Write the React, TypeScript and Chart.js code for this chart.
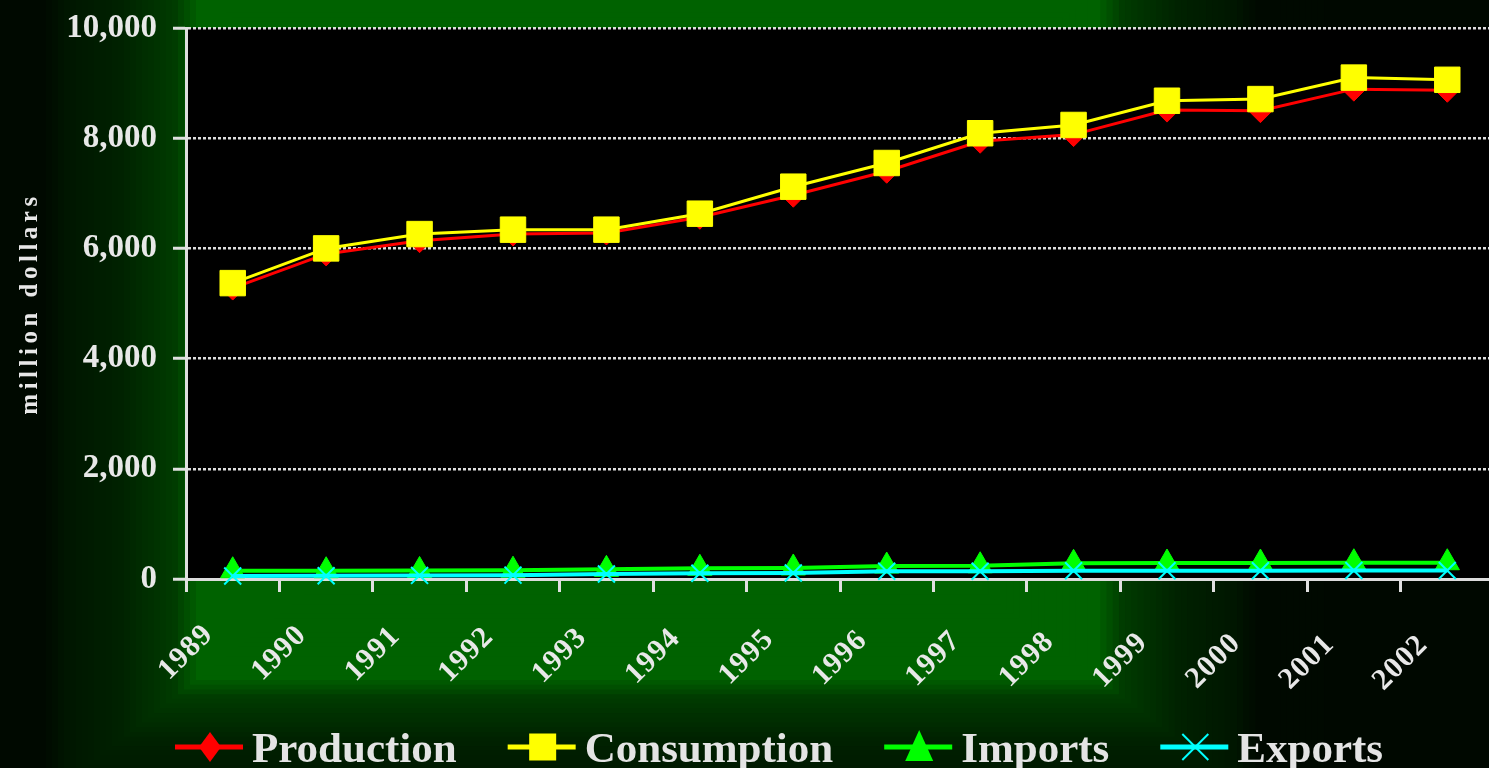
import React, { useEffect, useRef } from 'react';
import { Chart, registerables } from 'chart.js';

Chart.register(...registerables);

const years = ['1989', '1990', '1991', '1992', '1993', '1994', '1995', '1996', '1997', '1998', '1999', '2000', '2001', '2002'];
const production = [5280, 5900, 6140, 6260, 6280, 6565, 6965, 7400, 7945, 8065, 8510, 8500, 8890, 8870];
const consumption = [5370, 6000, 6260, 6340, 6340, 6630, 7120, 7550, 8090, 8240, 8680, 8710, 9100, 9060];
const imports = [150, 150, 155, 160, 175, 195, 200, 235, 240, 285, 290, 290, 295, 295];
const exportsData = [55, 60, 65, 70, 90, 105, 110, 140, 140, 150, 150, 150, 155, 155];
const seriesNames = ['Production', 'Consumption', 'Imports', 'Exports'];
const seriesColors = ['#ff0000', '#ffff00', '#00ff00', '#00ffff'];
const seriesMarkers = ['diamond', 'square', 'triangle', 'cross'];
const yAxisTitle = 'million dollars';
const yMin = 0;
const yMax = 10000;
const yStep = 2000;

const SERIF = '"Liberation Serif", "Times New Roman", serif';
const TEXT = '#e8e8e8';

// brightness ramp of the rectangular background gradient (level -> green channel)
const ramp: [number, number][] = [
  [0.0, 100],
  [0.74, 98],
  [0.78, 60],
  [0.87, 34],
  [0.96, 22],
  [1.0, 9],
  [2.0, 8],
];

function rampAt(level: number) {
  for (let i = 1; i < ramp.length; i++) {
    const [l0, g0] = ramp[i - 1];
    const [l1, g1] = ramp[i];
    if (level <= l1) {
      const t = (level - l0) / (l1 - l0);
      return g0 + (g1 - g0) * t;
    }
  }
  return ramp[ramp.length - 1][1];
}

function drawBackground(ctx: CanvasRenderingContext2D, w: number, h: number) {
  ctx.fillStyle = 'rgb(0,8,0)';
  ctx.fillRect(0, 0, w, h);
  const cx = 640;
  const cy = 330;
  const WL = 600;
  const WR = 622;
  const HT = 460;
  const HB = 473;
  const steps = 110;
  const maxLevel = 1.1;
  for (let i = 0; i < steps; i++) {
    const level = maxLevel * (1 - i / steps);
    const g = Math.round(rampAt(level));
    ctx.fillStyle = `rgb(0,${g},0)`;
    const x0 = cx - WL * level;
    const x1 = cx + WR * level;
    const y0 = cy - HT * level;
    const y1 = cy + HB * level;
    ctx.fillRect(x0, y0, x1 - x0, y1 - y0);
  }
}

function drawMarker(ctx: CanvasRenderingContext2D, kind: string, x: number, y: number, color: string) {
  ctx.save();
  ctx.fillStyle = color;
  ctx.strokeStyle = color;
  ctx.beginPath();
  if (kind === 'diamond') {
    ctx.moveTo(x, y - 15);
    ctx.lineTo(x + 11, y);
    ctx.lineTo(x, y + 15);
    ctx.lineTo(x - 11, y);
    ctx.closePath();
    ctx.fill();
  } else if (kind === 'square') {
    ctx.rect(x - 13.5, y - 13.5, 27, 27);
    ctx.fill();
  } else if (kind === 'triangle') {
    ctx.moveTo(x, y - 17);
    ctx.lineTo(x + 14, y + 14);
    ctx.lineTo(x - 14, y + 14);
    ctx.closePath();
    ctx.fill();
  } else {
    ctx.lineWidth = 2;
    ctx.moveTo(x - 13, y - 13);
    ctx.lineTo(x + 13, y + 13);
    ctx.moveTo(x + 13, y - 13);
    ctx.lineTo(x - 13, y + 13);
    ctx.stroke();
  }
  ctx.restore();
}

const decorPlugin = {
  id: 'decor',
  beforeDraw(chart: any) {
    const { ctx, width, height, chartArea } = chart;
    ctx.save();
    drawBackground(ctx, width, height);
    ctx.fillStyle = '#000000';
    ctx.fillRect(chartArea.left, chartArea.top, chartArea.right - chartArea.left, chartArea.bottom - chartArea.top);
    ctx.restore();
  },
  afterDraw(chart: any) {
    const { ctx, chartArea } = chart;
    const xs = chart.scales.x;

    // rotated category labels
    ctx.save();
    ctx.font = `bold 30px ${SERIF}`;
    (ctx as any).letterSpacing = '1px';
    ctx.fillStyle = TEXT;
    ctx.textAlign = 'right';
    ctx.textBaseline = 'middle';
    years.forEach((label, i) => {
      const px = xs.getPixelForValue(i);
      ctx.save();
      ctx.translate(px - 24, xs.top + 51 + 0.8 * i);
      ctx.rotate(-Math.PI / 4);
      ctx.fillText(label, 0, 0);
      ctx.restore();
    });
    ctx.restore();

    // y axis title
    ctx.save();
    ctx.font = `bold 25px ${SERIF}`;
    (ctx as any).letterSpacing = '4.5px';
    ctx.fillStyle = TEXT;
    ctx.textAlign = 'center';
    ctx.textBaseline = 'middle';
    ctx.translate(31, (chartArea.top + chartArea.bottom) / 2);
    ctx.rotate(-Math.PI / 2);
    ctx.fillText(yAxisTitle, 0, 0);
    ctx.restore();

    // legend
    ctx.save();
    ctx.font = `bold 43px ${SERIF}`;
    let x = 175;
    const ly = 747;
    seriesNames.forEach((name, i) => {
      ctx.strokeStyle = seriesColors[i];
      ctx.lineWidth = 5;
      ctx.beginPath();
      ctx.moveTo(x, ly);
      ctx.lineTo(x + 68, ly);
      ctx.stroke();
      drawMarker(ctx, seriesMarkers[i], x + 35, ly, seriesColors[i]);
      ctx.fillStyle = '#e4e4e4';
      ctx.textAlign = 'left';
      ctx.textBaseline = 'alphabetic';
      ctx.fillText(name, x + 77, 762);
      x += 77 + ctx.measureText(name).width + 51;
    });
    ctx.restore();
  },
};

const noPadding = (s: any) => {
  s.paddingTop = 0;
  s.paddingBottom = 0;
  s.paddingLeft = 0;
  s.paddingRight = 0;
};

export default function App() {
  const ref = useRef<HTMLCanvasElement | null>(null);

  useEffect(() => {
    document.body.style.margin = '0';
    document.body.style.overflow = 'hidden';
    const canvas = ref.current;
    if (!canvas) return;
    const chart = new Chart(canvas, {
      type: 'line',
      data: {
        labels: years,
        datasets: [
          {
            label: seriesNames[0],
            data: production,
            borderColor: seriesColors[0],
            backgroundColor: seriesColors[0],
            borderWidth: 3,
            pointStyle: 'rectRot',
            pointRadius: 12,
            pointBorderWidth: 1,
            order: 4,
            clip: false,
          },
          {
            label: seriesNames[1],
            data: consumption,
            borderColor: seriesColors[1],
            backgroundColor: seriesColors[1],
            borderWidth: 3,
            pointStyle: 'rect',
            pointRadius: 18,
            pointBorderWidth: 1,
            order: 3,
            clip: false,
          },
          {
            label: seriesNames[2],
            data: imports,
            borderColor: seriesColors[2],
            backgroundColor: seriesColors[2],
            borderWidth: 4,
            pointStyle: 'triangle',
            pointRadius: 14,
            pointBorderWidth: 1,
            order: 2,
            clip: false,
          },
          {
            label: seriesNames[3],
            data: exportsData,
            borderColor: seriesColors[3],
            backgroundColor: seriesColors[3],
            borderWidth: 4,
            pointStyle: 'crossRot',
            pointRadius: 12,
            pointBorderWidth: 2,
            order: 1,
            clip: false,
          },
        ],
      },
      options: {
        responsive: false,
        animation: false,
        layout: { padding: { top: 28, left: 0, right: 0, bottom: 0 }, autoPadding: false },
        elements: { line: { tension: 0 } },
        plugins: { legend: { display: false }, tooltip: { enabled: false } },
        scales: {
          x: {
            type: 'category',
            offset: true,
            grid: {
              display: true,
              drawOnChartArea: false,
              drawTicks: true,
              tickLength: 13,
              tickColor: '#e0e0e0',
              tickWidth: 3,
              offset: true,
            },
            border: { display: true, color: '#dcdcdc', width: 3 },
            ticks: { display: false },
            afterFit: (s: any) => {
              s.height = 189;
              noPadding(s);
            },
          },
          y: {
            min: yMin,
            max: yMax,
            ticks: {
              stepSize: yStep,
              color: TEXT,
              padding: 16,
              font: { family: SERIF, size: 33, weight: 'bold' },
              callback: (v: any) => Number(v).toLocaleString('en-US'),
            },
            grid: {
              color: '#dedede',
              lineWidth: 2.5,
              drawTicks: true,
              tickLength: 13,
              tickColor: '#e0e0e0',
              tickWidth: 3,
            },
            border: { display: true, color: '#e0e0e0', width: 3, dash: [3, 2] },
            afterFit: (s: any) => {
              s.width = 186;
              noPadding(s);
            },
          },
        },
      },
      plugins: [decorPlugin],
    } as any);
    return () => chart.destroy();
  }, []);

  return (
    <div style={{ width: 1489, height: 768, overflow: 'hidden', position: 'relative' }}>
      <canvas ref={ref} width={1494} height={768} style={{ display: 'block' }} />
    </div>
  );
}
